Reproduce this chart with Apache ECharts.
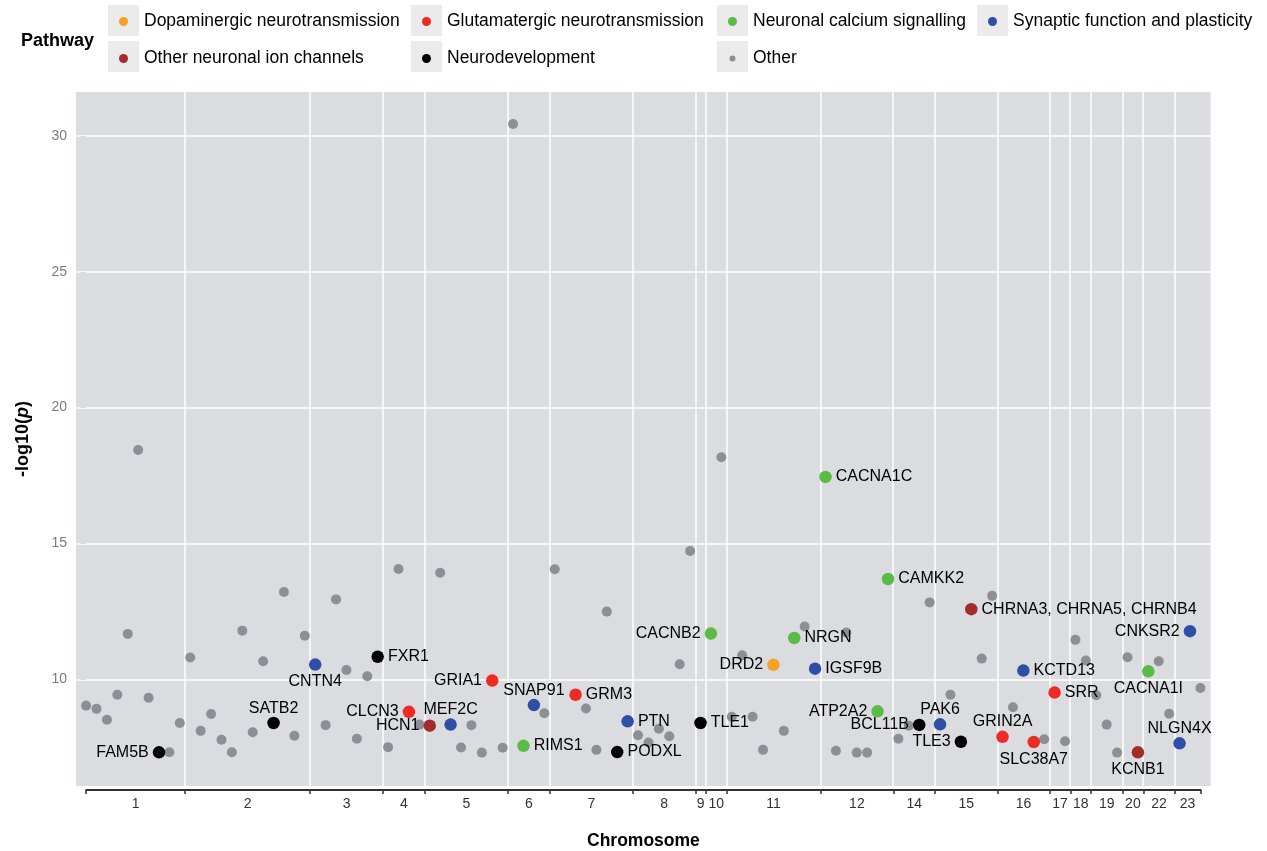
<!DOCTYPE html>
<html>
<head>
<meta charset="utf-8">
<script src="https://cdn.jsdelivr.net/npm/echarts@6/dist/echarts.min.js"></script>
<style>
html,body{margin:0;padding:0;background:#fff;}
#chart{width:1267px;height:851px;}
</style>
</head>
<body>
<div id="chart"></div>
<script>
// ---------- DATA ----------
// x = locus index along the genome (ordered by chromosome), y = -log10(p)
const chrNames = ['1','2','3','4','5','6','7','8','9','10','11','12','14','15','16','17','18','19','20','22','23'];
const chrBoundaries = [0, 9.5, 21.5, 28.5, 32.5, 40.5, 44.5, 52.5, 58.5, 59.5, 61.5, 70.5, 77.5, 81.5, 87.5, 92.5, 94.5, 96.5, 99.5, 101.5, 104.5, 107];
const yTicks = [10, 15, 20, 25, 30];

const dopaminergic = [[66, 10.53, 'DRD2']];
const glutamatergic = [[31, 8.80, 'CLCN3'], [39, 9.95, 'GRIA1'], [47, 9.43, 'GRM3'], [88, 7.88, 'GRIN2A'], [91, 7.69, 'SLC38A7'], [93, 9.51, 'SRR']];
const calcium = [[42, 7.55, 'RIMS1'], [60, 11.68, 'CACNB2'], [68, 11.52, 'NRGN'], [71, 17.45, 'CACNA1C'], [76, 8.82, 'ATP2A2'], [77, 13.69, 'CAMKK2'], [102, 10.29, 'CACNA1I']];
const synaptic = [[22, 10.54, 'CNTN4'], [35, 8.33, 'MEF2C'], [43, 9.05, 'SNAP91'], [52, 8.45, 'PTN'], [70, 10.39, 'IGSF9B'], [82, 8.34, 'PAK6'], [90, 10.32, 'KCTD13'], [105, 7.64, 'NLGN4X'], [106, 11.77, 'CNKSR2']];
const ionChannels = [[33, 8.29, 'HCN1'], [85, 12.58, 'CHRNA3, CHRNA5, CHRNB4'], [101, 7.31, 'KCNB1']];
const neurodev = [[7, 7.31, 'FAM5B'], [18, 8.39, 'SATB2'], [28, 10.83, 'FXR1'], [51, 7.32, 'PODXL'], [59, 8.39, 'TLE1'], [80, 8.32, 'BCL11B'], [84, 7.70, 'TLE3']];
const other = [[0,9.03],[1,8.91],[2,8.51],[3,9.43],[4,11.67],[5,18.44],[6,9.32],[8,7.31],[9,8.39],[10,10.80],[11,8.10],[12,8.72],[13,7.77],[14,7.31],[15,11.79],[16,8.05],[17,10.66],[19,13.21],[20,7.92],[21,11.60],[23,8.31],[24,12.94],[25,10.34],[26,7.81],[27,10.11],[29,7.50],[30,14.06],[32,8.33],[34,13.92],[36,7.49],[37,8.31],[38,7.30],[40,7.48],[41,30.44],[44,8.75],[45,14.05],[48,8.92],[49,7.40],[50,12.49],[53,7.94],[54,7.67],[55,8.18],[56,7.90],[57,10.55],[58,14.72],[61,18.17],[62,8.62],[63,10.88],[64,8.62],[65,7.40],[67,8.10],[69,11.94],[72,7.37],[73,11.72],[74,7.30],[75,7.30],[78,7.81],[79,8.29],[81,12.83],[83,9.43],[86,10.76],[87,13.07],[89,8.97],[92,7.79],[94,7.72],[95,11.45],[96,10.69],[97,9.41],[98,8.33],[99,7.30],[100,10.81],[103,10.66],[104,8.73],[107,9.68]];

// label placement (annotation side) for each named gene
const labelSide = {
  'FAM5B':'left','SATB2':'top','CNTN4':'bottom','FXR1':'right','CLCN3':'left','HCN1':'left','MEF2C':'top',
  'GRIA1':'left','SNAP91':'top','GRM3':'right','RIMS1':'right','PTN':'right','PODXL':'right','TLE1':'right',
  'CACNB2':'left','DRD2':'left','NRGN':'right','IGSF9B':'right','CACNA1C':'right','CAMKK2':'right',
  'CHRNA3, CHRNA5, CHRNB4':'right','CNKSR2':'left','KCTD13':'right','CACNA1I':'bottom','SRR':'right',
  'ATP2A2':'left','PAK6':'top','BCL11B':'left','TLE3':'left','GRIN2A':'top','SLC38A7':'bottom',
  'KCNB1':'bottom','NLGN4X':'top'
};

// ---------- CHART ----------
const FONT = 'Liberation Sans, Arial, Helvetica, sans-serif';
const sideDist = {left: 4, right: 4, top: 0.5, bottom: 3};
const chrMids = chrNames.map((_, i) => (chrBoundaries[i] + chrBoundaries[i + 1]) / 2);
const innerBoundaries = chrBoundaries.slice(1, -1);

function makeSeries(name, arr, color, size, z) {
  return {
    type: 'scatter', name: name, xAxisIndex: 0, yAxisIndex: 0,
    symbol: 'circle', symbolSize: size, z: z,
    itemStyle: {color: color, opacity: 1},
    emphasis: {disabled: true},
    label: {show: false, formatter: '{b}', color: '#000', fontSize: 16, fontFamily: FONT},
    data: arr.map(function (d) {
      const item = {value: [d[0], d[1]], name: d[2] || ''};
      if (d[2]) {
        const side = labelSide[d[2]];
        item.label = {show: true, position: side, distance: sideDist[side]};
      }
      return item;
    })
  };
}

const chart = echarts.init(document.getElementById('chart'), null, {renderer: 'canvas'});

const legendBase = {
  orient: 'vertical', padding: 0, itemWidth: 31, itemHeight: 9, itemGap: 17,
  top: 11.5, selectedMode: false, icon: 'circle',
  textStyle: {fontSize: 17.5, color: '#000', fontFamily: FONT, lineHeight: 20}
};
const smallDot = 'path://M0,0M9,9M1.5,4.5a3,3 0 1,0 6,0a3,3 0 1,0 -6,0z';

const keyBoxes = [[108,5],[108,41],[411,5],[411,41],[717,5],[717,41],[977,5]].map(function (p) {
  return {type: 'rect', left: p[0], top: p[1], z: 0, shape: {width: 31, height: 31}, style: {fill: '#ebebeb'}};
});

const option = {
  animation: false,
  backgroundColor: '#fff',
  title: {
    text: 'Pathway', left: 21, top: 32, padding: 0,
    textStyle: {fontSize: 18, fontWeight: 'bold', color: '#000', fontFamily: FONT}
  },
  graphic: keyBoxes,
  legend: [
    Object.assign({}, legendBase, {left: 119, data: ['Dopaminergic neurotransmission', 'Other neuronal ion channels']}),
    Object.assign({}, legendBase, {left: 422, data: ['Glutamatergic neurotransmission', 'Neurodevelopment']}),
    Object.assign({}, legendBase, {left: 728, data: ['Neuronal calcium signalling', {name: 'Other', icon: smallDot}]}),
    Object.assign({}, legendBase, {left: 988, data: ['Synaptic function and plasticity']})
  ],
  grid: [
    {left: 76, right: 56.5, top: 92, bottom: 65, show: true, backgroundColor: '#dbdcdf', borderWidth: 0,
     containLabel: false, outerBoundsMode: 'none'},
    {left: 86.2, right: 66.4, top: 92, bottom: 61, show: false, containLabel: false, outerBoundsMode: 'none'}
  ],
  xAxis: [
    {type: 'value', gridIndex: 0, min: -0.97, max: 107.97, show: false, splitLine: {show: false}},
    {
      type: 'value', gridIndex: 1, min: 0, max: 107, position: 'bottom', z: 5,
      axisLine: {show: true, onZero: false, lineStyle: {color: '#333', width: 1.8}},
      axisTick: {show: true, inside: false, length: 4, customValues: chrBoundaries, lineStyle: {color: '#333', width: 1.5}},
      axisLabel: {
        customValues: chrMids, margin: 7, color: '#333', fontSize: 14, fontFamily: FONT,
        formatter: function (v) {
          let best = 0;
          chrMids.forEach(function (m, i) { if (Math.abs(m - v) < Math.abs(chrMids[best] - v)) best = i; });
          return chrNames[best];
        }
      },
      splitLine: {show: false},
      name: 'Chromosome', nameLocation: 'middle', nameGap: 42,
      nameTextStyle: {fontSize: 17.5, lineHeight: 18, fontWeight: 'bold', color: '#000', fontFamily: FONT}
    }
  ],
  yAxis: [
    {
      type: 'value', gridIndex: 0, min: 6.07, max: 31.62,
      axisLine: {show: false},
      splitLine: {show: false},
      axisTick: {show: true, length: 6, customValues: yTicks, lineStyle: {color: '#7a7a7a'}},
      axisLabel: {customValues: yTicks, margin: 9, color: '#7a7a7a', fontSize: 14, fontFamily: FONT},
      name: '{b|-log10(}{i|p}{b|)}', nameLocation: 'middle', nameGap: 44, nameRotate: 90,
      nameTextStyle: {
        rich: {
          b: {fontSize: 18, fontWeight: 'bold', color: '#000', fontFamily: FONT},
          i: {fontSize: 18, fontWeight: 'bold', fontStyle: 'italic', color: '#000', fontFamily: FONT}
        }
      }
    },
    {type: 'value', gridIndex: 1, min: 0, max: 1, show: false}
  ],
  series: [
    {
      type: 'line', name: '__grid', xAxisIndex: 0, yAxisIndex: 0, data: [], z: 1, silent: true,
      markLine: {
        silent: true, z: 1, symbol: ['none', 'none'], label: {show: false}, animation: false,
        lineStyle: {color: '#ffffff', width: 1.5, type: 'solid', opacity: 1},
        emphasis: {disabled: true},
        data: innerBoundaries.map(function (b) { return {xAxis: b}; })
          .concat(yTicks.map(function (v) { return {yAxis: v}; }))
      }
    },
    makeSeries('Other', other, '#8e8f94', 10, 2),
    makeSeries('Dopaminergic neurotransmission', dopaminergic, '#f5a026', 12.5, 3),
    makeSeries('Glutamatergic neurotransmission', glutamatergic, '#ec2b24', 12.5, 3),
    makeSeries('Neuronal calcium signalling', calcium, '#5cbb47', 12.5, 3),
    makeSeries('Synaptic function and plasticity', synaptic, '#2f4fa6', 12.5, 3),
    makeSeries('Other neuronal ion channels', ionChannels, '#a22b2b', 12.5, 3),
    makeSeries('Neurodevelopment', neurodev, '#000000', 12.5, 3)
  ]
};

chart.setOption(option);
</script>
</body>
</html>
